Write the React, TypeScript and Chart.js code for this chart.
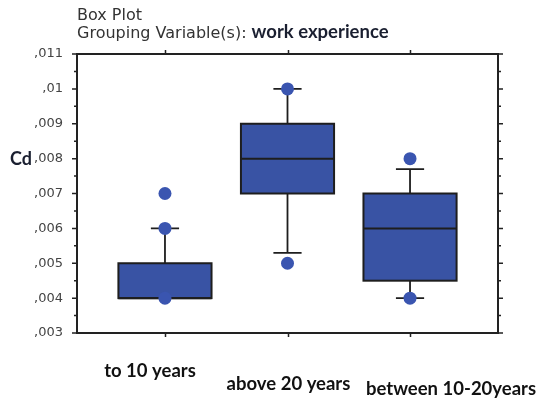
import React, { useEffect, useRef } from 'react';
import { Chart, registerables } from 'chart.js';

Chart.register(...registerables);

// ---- data ----
const categories = ['to 10 years', 'above 20 years', 'between 10-20years'];
const whiskerLow = [0.004, 0.0053, 0.004];
const q1 = [0.004, 0.007, 0.0045];
const median = [0.004, 0.008, 0.006];
const q3 = [0.005, 0.009, 0.007];
const whiskerHigh = [0.006, 0.01, 0.0077];
const pointsTo10 = [0.004, 0.006, 0.007];
const pointsAbove20 = [0.005, 0.01];
const pointsBetween = [0.004, 0.008];
const yTickValues = [0.003, 0.004, 0.005, 0.006, 0.007, 0.008, 0.009, 0.01, 0.011];
const yTickLabels = [',003', ',004', ',005', ',006', ',007', ',008', ',009', ',01', ',011'];
const titleLine1 = 'Box Plot';
const titleLine2a = 'Grouping Variable(s): ';
const titleLine2b = 'work experience';
const yTitle = 'Cd';

// ---- styles ----
const BOX_FILL = '#3953a4';
const POINT_FILL = '#3a55b0';
const LINE = '#1e1e1e';
const BOX_HALF = 0.38;
const CAP_HALF = 0.115;
const labelDx = [-15, 1, 41];
const labelBaseline = [377, 390, 395];
const LABEL_FONT = 'bold 18.5px Lato';
const TITLE_FONT = '16px "DejaVu Sans"';

const boxPlugin = {
  id: 'boxplot',
  beforeDatasetsDraw(chart: any) {
    const { ctx, chartArea: a, scales } = chart;
    const x = scales.x;
    const y = scales.y;
    ctx.save();
    // frame
    ctx.strokeStyle = '#222';
    ctx.lineWidth = 2;
    ctx.strokeRect(a.left, a.top, a.right - a.left, a.bottom - a.top);
    ctx.lineWidth = 1.5;
    ctx.beginPath();
    yTickValues.forEach((v, i) => {
      const py = y.getPixelForValue(v);
      ctx.moveTo(a.left - 5, py);
      ctx.lineTo(a.left, py);
      ctx.moveTo(a.right, py);
      ctx.lineTo(a.right + 5, py);
      if (i < yTickValues.length - 1) {
        const pm = y.getPixelForValue((v + yTickValues[i + 1]) / 2);
        ctx.moveTo(a.left - 3, pm);
        ctx.lineTo(a.left, pm);
        ctx.moveTo(a.right, pm);
        ctx.lineTo(a.right + 3, pm);
      }
    });
    categories.forEach((_, i) => {
      const px = Math.round(x.getPixelForValue(i)) + 0.5;
      ctx.moveTo(px, a.top - 4);
      ctx.lineTo(px, a.top);
      ctx.moveTo(px, a.bottom);
      ctx.lineTo(px, a.bottom + 4);
    });
    ctx.stroke();

    // boxes
    categories.forEach((_, i) => {
      const cx = x.getPixelForValue(i);
      const half = x.getPixelForValue(i + BOX_HALF) - cx;
      const capHalf = x.getPixelForValue(i + CAP_HALF) - cx;
      const yLow = y.getPixelForValue(whiskerLow[i]);
      const yQ1 = y.getPixelForValue(q1[i]);
      const yMed = y.getPixelForValue(median[i]);
      const yQ3 = y.getPixelForValue(q3[i]);
      const yHigh = y.getPixelForValue(whiskerHigh[i]);
      ctx.strokeStyle = LINE;
      ctx.lineWidth = 1.8;
      ctx.beginPath();
      ctx.moveTo(cx, yQ3);
      ctx.lineTo(cx, yHigh);
      ctx.moveTo(cx - capHalf, yHigh);
      ctx.lineTo(cx + capHalf, yHigh);
      ctx.moveTo(cx, yQ1);
      ctx.lineTo(cx, yLow);
      ctx.moveTo(cx - capHalf, yLow);
      ctx.lineTo(cx + capHalf, yLow);
      ctx.stroke();
      ctx.fillStyle = BOX_FILL;
      ctx.fillRect(cx - half, yQ3, half * 2, yQ1 - yQ3);
      ctx.lineWidth = 2;
      ctx.strokeRect(cx - half, yQ3, half * 2, yQ1 - yQ3);
      ctx.beginPath();
      ctx.moveTo(cx - half, yMed);
      ctx.lineTo(cx + half, yMed);
      ctx.stroke();
    });
    ctx.restore();
  },
  afterDraw(chart: any) {
    const { ctx, chartArea: a, scales } = chart;
    const x = scales.x;
    ctx.save();
    ctx.textBaseline = 'alphabetic';
    ctx.textAlign = 'left';
    ctx.fillStyle = '#333';
    ctx.font = TITLE_FONT;
    ctx.fillText(titleLine1, a.left, 20);
    ctx.fillText(titleLine2a, a.left, 38);
    const w = ctx.measureText(titleLine2a).width;
    ctx.font = 'bold 18.5px Lato';
    ctx.fillStyle = '#1a1f30';
    ctx.fillText(titleLine2b, a.left + w, 38);
    ctx.font = 'bold 18px Lato';
    ctx.fillText(yTitle, 10, 165);
    ctx.font = LABEL_FONT;
    ctx.fillStyle = '#111';
    ctx.textAlign = 'center';
    categories.forEach((c, i) => {
      ctx.fillText(c, x.getPixelForValue(i) + labelDx[i], labelBaseline[i]);
    });
    ctx.restore();
  },
};

export default function App() {
  const ref = useRef<HTMLCanvasElement>(null);
  useEffect(() => {
    if (!ref.current) return;
    const pts = [
      ...pointsTo10.map((v) => ({ x: 0, y: v })),
      ...pointsAbove20.map((v) => ({ x: 1, y: v })),
      ...pointsBetween.map((v) => ({ x: 2, y: v })),
    ];
    const chart = new Chart(ref.current, {
      type: 'scatter',
      data: {
        datasets: [
          {
            data: pts,
            backgroundColor: POINT_FILL,
            borderWidth: 0,
            pointRadius: 6.5,
            showLine: false,
          },
        ],
      },
      options: {
        animation: false,
        responsive: false,
        devicePixelRatio: 1,
        layout: { padding: { left: 0, right: 41, top: 54, bottom: 71 } },
        plugins: { legend: { display: false }, tooltip: { enabled: false } },
        scales: {
          x: { type: 'linear', min: -0.718, max: 2.718, display: false },
          y: {
            type: 'linear',
            position: 'left',
            min: 0.003,
            max: 0.011,
            afterBuildTicks: (s: any) => {
              s.ticks = yTickValues.map((v) => ({ value: v }));
            },
            afterFit: (s: any) => {
              s.width = 77;
            },
            grid: { display: false, drawTicks: false, tickLength: 0 },
            border: { display: false },
            ticks: {
              padding: 14,
              color: '#444',
              font: { family: 'DejaVu Sans', size: 13 },
              callback: (_v: any, i: number) => yTickLabels[i],
            },
          },
        },
      },
      plugins: [boxPlugin],
    } as any);
    return () => chart.destroy();
  }, []);
  return (
    <div style={{ position: 'fixed', left: 0, top: 0, width: 539, height: 404, background: '#fff' }}>
      <canvas ref={ref} width={539} height={404} />
    </div>
  );
}
